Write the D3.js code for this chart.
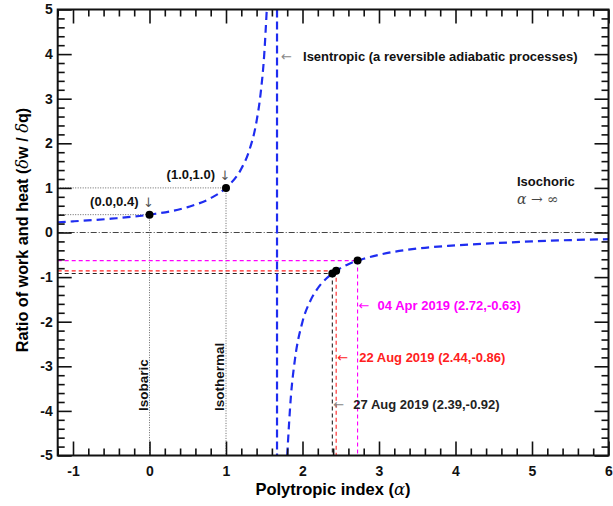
<!DOCTYPE html>
<html>
<head>
<meta charset="utf-8">
<script src="https://cdn.jsdelivr.net/npm/d3@7"></script>
<style>
  body { margin: 0; background: #fff; }
  svg { display: block; font-family: "Liberation Sans", Arial, sans-serif; }
  .tick text { font-weight: bold; font-size: 14px; fill: #111; }
  .tick line { stroke: #111; stroke-width: 1.6; }
  .ann { font-weight: bold; font-size: 13px; }
  .arr { font-family: "DejaVu Sans", sans-serif; font-size: 13px; }
</style>
</head>
<body>
<svg id="chart" width="613" height="506"></svg>
<script>
// polytropic work/heat ratio

// curve, two branches either side of the isentropic index
var alphaLeft  = [-1.2, -1.0, -0.5, 0.0, 0.5, 0.8, 1.0, 1.2, 1.3, 1.4, 1.45, 1.5, 1.533];
var ratioLeft  = [0.23, 0.25, 0.31, 0.40, 0.57, 0.77, 1.00, 1.43, 1.82, 2.50, 3.08, 4.00, 5.00];
var alphaRight = [1.8, 1.85, 1.9, 2.0, 2.1, 2.2, 2.4, 2.6, 2.8, 3.0, 3.5, 4.0, 4.5, 5.0, 5.5, 6.0];
var ratioRight = [-5.0, -3.64, -2.86, -2.0, -1.54, -1.25, -0.91, -0.71, -0.59, -0.50, -0.36, -0.29, -0.24, -0.20, -0.17, -0.15];

var isentropicAlpha = 1.667;

// isobaric / isothermal reference points
var refAlpha  = [0.0, 1.0];
var refRatio  = [0.4, 1.0];
var refLabels = ["(0.0,0.4)", "(1.0,1.0)"];
var refNames  = ["Isobaric", "Isothermal"];

// observed events
var eventLabels = ["04 Apr 2019 (2.72,-0.63)", "22 Aug 2019 (2.44,-0.86)", "27 Aug 2019 (2.39,-0.92)"];
var eventAlpha  = [2.72, 2.44, 2.39];
var eventRatio  = [-0.63, -0.86, -0.92];
var eventColors = ["#ff00ff", "#ff2020", "#222"];
var eventLabelY = [-1.64, -2.80, -3.86];

var xTicks = [-1, 0, 1, 2, 3, 4, 5, 6];
var yTicks = [-5, -4, -3, -2, -1, 0, 1, 2, 3, 4, 5];

var svg = d3.select("#chart"),
    pL = 57.7, pR = 608.5, pT = 9.5, pB = 455.5;

var x = d3.scaleLinear().domain([-1.2, 6]).range([pL, pR]),
    y = d3.scaleLinear().domain([-5, 5]).range([pB, pT]);

svg.append("defs").append("clipPath").attr("id", "clip")
  .append("rect").attr("x", pL).attr("y", pT)
  .attr("width", pR - pL).attr("height", pB - pT);

var plot = svg.append("g").attr("clip-path", "url(#clip)");

// zero line
plot.append("line")
    .attr("x1", pL).attr("x2", pR)
    .attr("y1", y(0)).attr("y2", y(0))
    .attr("stroke", "#444").attr("stroke-width", 1)
    .attr("stroke-dasharray", "6,2,1,2");

// dotted guides for reference points
refAlpha.forEach(function(a, i) {
  plot.append("line")
      .attr("x1", pL).attr("x2", x(a))
      .attr("y1", y(refRatio[i])).attr("y2", y(refRatio[i]))
      .attr("stroke", "#666").attr("stroke-width", 1).attr("stroke-dasharray", "1,1.5");
  plot.append("line")
      .attr("x1", x(a)).attr("x2", x(a))
      .attr("y1", y(refRatio[i])).attr("y2", pB)
      .attr("stroke", "#666").attr("stroke-width", 1).attr("stroke-dasharray", "1,1.5");
});

// dashed guides for events
eventAlpha.forEach(function(a, i) {
  plot.append("line")
      .attr("x1", pL).attr("x2", x(a))
      .attr("y1", y(eventRatio[i])).attr("y2", y(eventRatio[i]))
      .attr("stroke", eventColors[i]).attr("stroke-width", 1.1).attr("stroke-dasharray", "4,3");
  plot.append("line")
      .attr("x1", x(a)).attr("x2", x(a))
      .attr("y1", y(eventRatio[i])).attr("y2", pB)
      .attr("stroke", eventColors[i]).attr("stroke-width", 1.1).attr("stroke-dasharray", "4,3");
});

// isentropic asymptote
plot.append("line")
    .attr("x1", x(isentropicAlpha)).attr("x2", x(isentropicAlpha))
    .attr("y1", pT).attr("y2", pB)
    .attr("stroke", "#1f2df0").attr("stroke-width", 2.2).attr("stroke-dasharray", "8,4");

var line = d3.line()
    .curve(d3.curveMonotoneX)
    .x(function(d) { return x(d[0]); })
    .y(function(d) { return y(d[1]); });

[[alphaLeft, ratioLeft], [alphaRight, ratioRight]].forEach(function(b) {
  plot.append("path")
      .datum(b[0].map(function(a, i) { return [a, b[1][i]]; }))
      .attr("d", line)
      .attr("fill", "none")
      .attr("stroke", "#1f2df0").attr("stroke-width", 2.2)
      .attr("stroke-dasharray", "8,5");
});

// points
var pts = refAlpha.map(function(a, i) { return [a, refRatio[i]]; })
  .concat(eventAlpha.map(function(a, i) { return [a, eventRatio[i]]; }));
plot.selectAll(".pt").data(pts).enter().append("circle")
    .attr("class", "pt")
    .attr("cx", function(d) { return x(d[0]); })
    .attr("cy", function(d) { return y(d[1]); })
    .attr("r", 4).attr("fill", "#000");

// axes: major + minor ticks, inward on all four sides
function minorVals(lo, hi) {
  var v = [];
  for (var k = Math.ceil(lo * 5); k <= Math.floor(hi * 5); k++) if (k % 5 != 0) v.push(k / 5);
  return v;
}
var xMinor = minorVals(-1.2, 6), yMinor = minorVals(-5, 5);

function addAxis(axisFn, scale, vals, size, tr, labels, pad) {
  var g = svg.append("g").attr("transform", tr)
    .call(axisFn(scale).tickValues(vals).tickSize(-size).tickPadding(pad || 3)
      .tickFormat(labels ? function(d) { return String(d); } : ""));
  g.select(".domain").remove();
  return g;
}
addAxis(d3.axisBottom, x, xTicks, 14, "translate(0," + pB + ")", true, 11);
addAxis(d3.axisBottom, x, xMinor, 7, "translate(0," + pB + ")", false);
addAxis(d3.axisTop, x, xTicks, 14, "translate(0," + pT + ")", false);
addAxis(d3.axisTop, x, xMinor, 7, "translate(0," + pT + ")", false);
addAxis(d3.axisLeft, y, yTicks, 14, "translate(" + pL + ",0)", true, 5);
addAxis(d3.axisLeft, y, yMinor, 7, "translate(" + pL + ",0)", false);
addAxis(d3.axisRight, y, yTicks, 14, "translate(" + pR + ",0)", false);
addAxis(d3.axisRight, y, yMinor, 7, "translate(" + pR + ",0)", false);

svg.append("rect")
    .attr("x", pL).attr("y", pT)
    .attr("width", pR - pL).attr("height", pB - pT)
    .attr("fill", "none").attr("stroke", "#111").attr("stroke-width", 2);

// axis titles
svg.append("text")
    .attr("x", 333).attr("y", 495)
    .attr("text-anchor", "middle")
    .style("font-weight", "bold").style("font-size", "16.5px")
    .html('Polytropic index (<tspan font-family="DejaVu Serif" font-style="italic" font-weight="normal">α</tspan>)');

svg.append("text")
    .attr("transform", "translate(28,230) rotate(-90)")
    .attr("text-anchor", "middle")
    .style("font-weight", "bold").style("font-size", "16.2px")
    .html('Ratio of work and heat (<tspan font-family="DejaVu Serif" font-style="italic" font-weight="normal">δ</tspan>w / <tspan font-family="DejaVu Serif" font-style="italic" font-weight="normal">δ</tspan>q)');

// reference point labels
refAlpha.forEach(function(a, i) {
  svg.append("text").attr("class", "ann")
      .attr("x", x(a) - 11).attr("y", y(refRatio[i]) - 9)
      .attr("text-anchor", "end").attr("fill", "#111")
      .text(refLabels[i]);
  svg.append("text").attr("class", "arr")
      .attr("x", x(a) - 1).attr("y", y(refRatio[i]) - 8)
      .attr("text-anchor", "middle").attr("fill", "#555")
      .text("↓");
  svg.append("text")
      .attr("transform", "translate(" + (x(a) - 2) + ",411) rotate(-90)")
      .attr("fill", "#111").style("font-size", "13.5px").style("font-weight", "bold")
      .text(refNames[i]);
});

// event labels
eventAlpha.forEach(function(a, i) {
  svg.append("text").attr("class", "arr")
      .attr("x", x(a) + 1).attr("y", y(eventLabelY[i]) + 4.5)
      .attr("fill", i == 2 ? "#888" : eventColors[i])
      .text("←");
  svg.append("text").attr("class", "ann")
      .attr("x", x(a) + (i == 0 ? 20 : i == 1 ? 23 : 21)).attr("y", y(eventLabelY[i]) + 4.5)
      .attr("fill", eventColors[i])
      .text(eventLabels[i]);
});

// isentropic label
svg.append("text").attr("class", "arr")
    .attr("x", x(isentropicAlpha) + 4).attr("y", 60.5)
    .attr("fill", "#888")
    .text("←");
svg.append("text").attr("class", "ann")
    .attr("x", x(isentropicAlpha) + 26).attr("y", 60.5)
    .attr("fill", "#111")
    .text("Isentropic (a reversible adiabatic processes)");

// isochoric note
svg.append("text").attr("class", "ann")
    .attr("x", 517).attr("y", 185.5)
    .attr("fill", "#111")
    .text("Isochoric");
svg.append("text")
    .attr("x", 517).attr("y", 204)
    .attr("fill", "#444").style("font-size", "14px")
    .style("font-family", "DejaVu Serif")
    .html('<tspan font-style="italic">α</tspan> → ∞');
</script>
</body>
</html>
